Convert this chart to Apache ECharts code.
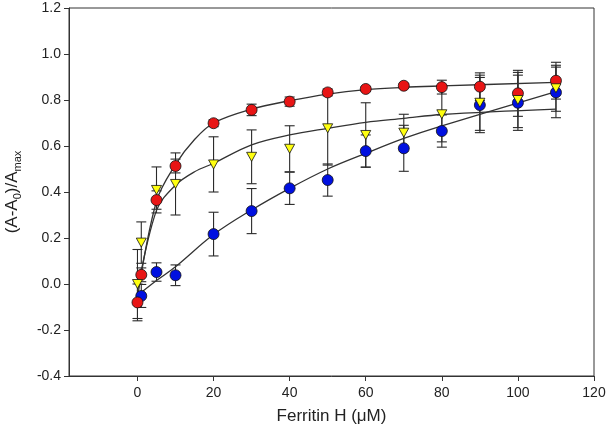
<!DOCTYPE html>
<html>
<head>
<meta charset="utf-8">
<script src="https://cdn.jsdelivr.net/npm/echarts@6/dist/echarts.min.js"></script>
<style>
html,body{margin:0;padding:0;background:#fff;}
#chart{width:608px;height:436px;}
</style>
</head>
<body>
<div id="chart"></div>
<script>
// ---- data ----
var xTicks = [0, 20, 40, 60, 80, 100, 120];

var redX   = [0, 1, 5, 10, 20, 30, 40, 50, 60, 70, 80, 90, 100, 110];
var redY   = [-0.08, 0.04, 0.365, 0.513, 0.699, 0.757, 0.793, 0.833, 0.848, 0.862, 0.856, 0.858, 0.829, 0.884];
var redErr = [0.08, 0.03, 0.04, 0.03, 0.015, 0.025, 0.02, 0.015, 0.01, 0.01, 0.03, 0.06, 0.1, 0.08];

var yelX   = [0, 1, 5, 10, 20, 30, 40, 50, 60, 70, 80, 90, 100, 110];
var yelY   = [0.0, 0.18, 0.409, 0.435, 0.52, 0.553, 0.588, 0.677, 0.648, 0.658, 0.738, 0.788, 0.80, 0.851];
var yelErr = [0.15, 0.09, 0.1, 0.135, 0.12, 0.117, 0.1, 0.16, 0.14, 0.08, 0.12, 0.12, 0.12, 0.1];

var bluX   = [1, 5, 10, 20, 30, 40, 50, 60, 70, 80, 90, 100, 110];
var bluY   = [-0.052, 0.052, 0.038, 0.217, 0.317, 0.416, 0.452, 0.578, 0.590, 0.665, 0.778, 0.788, 0.833];
var bluErr = [0.05, 0.04, 0.045, 0.095, 0.098, 0.07, 0.07, 0.07, 0.1, 0.07, 0.12, 0.12, 0.11];

// fitted curves
var redFitX = [0, 5, 10, 15, 20, 30, 40, 50, 60, 70, 80, 110];
var redFitY = [-0.06, 0.36, 0.52, 0.628, 0.70, 0.76, 0.797, 0.826, 0.845, 0.855, 0.861, 0.877];
var yelFitX = [0, 5, 10, 15, 20, 30, 40, 50, 60, 70, 80, 110];
var yelFitY = [-0.03, 0.32, 0.43, 0.488, 0.525, 0.605, 0.648, 0.677, 0.703, 0.72, 0.737, 0.76];
var bluFitX = [0, 5, 10, 20, 30, 40, 50, 60, 70, 80, 110];
var bluFitY = [-0.05, 0.015, 0.075, 0.215, 0.322, 0.416, 0.50, 0.568, 0.633, 0.688, 0.836];

function zip(a, b, c) {
  return a.map(function (v, i) { return c ? [v, b[i], c[i]] : [v, b[i]]; });
}

function errRender(params, api) {
  var x = api.value(0), y = api.value(1), e = api.value(2);
  var hi = api.coord([x, y + e]);
  var lo = api.coord([x, y - e]);
  var w = 5;
  var st = { stroke: '#2a2a2a', lineWidth: 1.1 };
  return {
    type: 'group',
    children: [
      { type: 'line', shape: { x1: hi[0], y1: hi[1], x2: lo[0], y2: lo[1] }, style: st },
      { type: 'line', shape: { x1: hi[0] - w, y1: hi[1], x2: hi[0] + w, y2: hi[1] }, style: st },
      { type: 'line', shape: { x1: lo[0] - w, y1: lo[1], x2: lo[0] + w, y2: lo[1] }, style: st }
    ]
  };
}

function errSeries(x, y, e) {
  return {
    type: 'custom', renderItem: errRender, data: zip(x, y, e),
    encode: { x: 0, y: 1 }, z: 2, silent: true, clip: false
  };
}
function fitSeries(x, y) {
  return {
    type: 'line', data: zip(x, y), showSymbol: false, smooth: 0.35,
    lineStyle: { color: '#333', width: 1.3 }, z: 3, silent: true
  };
}

var FONT = 'Liberation Sans, Arial, sans-serif';
var chart = echarts.init(document.getElementById('chart'), null, { renderer: 'canvas' });
var axisColor = '#333';
chart.setOption({
  animation: false,
  backgroundColor: '#fff',
  grid: { left: 69, right: 14, top: 8, bottom: 60, show: true, borderColor: axisColor, borderWidth: 1,
          containLabel: false, outerBoundsMode: 'none' },
  xAxis: {
    type: 'value', min: -18, max: 120,
    splitLine: { show: false },
    axisLine: { onZero: false, lineStyle: { color: axisColor, width: 1 } },
    axisTick: { length: 5, customValues: xTicks, lineStyle: { color: axisColor } },
    axisLabel: { customValues: xTicks, margin: 10, color: '#222', fontSize: 14, fontFamily: FONT },
    name: 'Ferritin H (\u03bcM)', nameLocation: 'middle', nameGap: 32,
    nameTextStyle: { color: '#222', fontSize: 17, fontFamily: FONT }
  },
  yAxis: {
    type: 'value', min: -0.4, max: 1.2, interval: 0.2,
    splitLine: { show: false },
    axisLine: { show: true, onZero: false, lineStyle: { color: axisColor, width: 1 } },
    axisTick: { show: true, length: 5, lineStyle: { color: axisColor } },
    axisLabel: {
      margin: 8, color: '#222', fontSize: 14, fontFamily: FONT,
      formatter: function (v) { return v.toFixed(1); }
    },
    name: '{n|(A-A}{s|0}{n|)/A}{s|max}', nameLocation: 'middle', nameGap: 46,
    nameTextStyle: {
      color: '#222', fontSize: 17, fontFamily: FONT,
      rich: {
        n: { fontSize: 17, lineHeight: 22, color: '#222', fontFamily: FONT },
        s: { fontSize: 11, lineHeight: 10, verticalAlign: 'bottom', color: '#222', fontFamily: FONT }
      }
    }
  },
  series: [
    errSeries(bluX, bluY, bluErr),
    errSeries(yelX, yelY, yelErr),
    errSeries(redX, redY, redErr),
    fitSeries(bluFitX, bluFitY),
    fitSeries(yelFitX, yelFitY),
    fitSeries(redFitX, redFitY),
    { type: 'scatter', data: zip(bluX, bluY), symbol: 'circle', symbolSize: 11, z: 5,
      itemStyle: { color: '#0010e0', borderColor: '#111', borderWidth: 0.8, opacity: 1 } },
    { type: 'scatter', data: zip(redX, redY), symbol: 'circle', symbolSize: 11, z: 6,
      itemStyle: { color: '#e81515', borderColor: '#111', borderWidth: 0.8, opacity: 1 } },
    { type: 'scatter', data: zip(yelX, yelY), symbol: 'triangle', symbolRotate: 180, symbolSize: [10, 9], z: 7,
      itemStyle: { color: '#ffff10', borderColor: '#111', borderWidth: 0.8, opacity: 1 } }
  ]
});
</script>
</body>
</html>
